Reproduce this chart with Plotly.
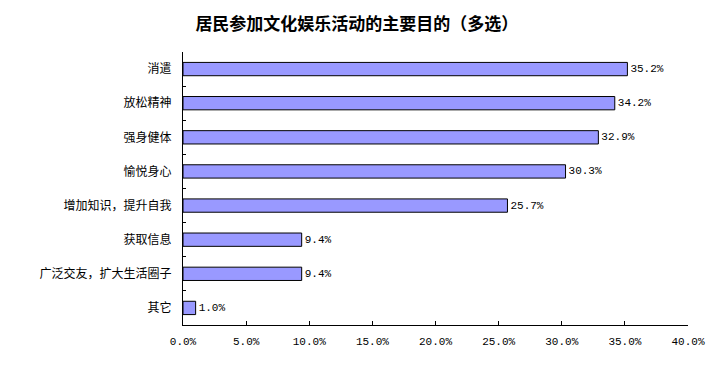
import plotly.graph_objects as go

categories = ["消遣", "放松精神", "强身健体", "愉悦身心", "增加知识，提升自我", "获取信息", "广泛交友，扩大生活圈子", "其它"]
values = [35.2, 34.2, 32.9, 30.3, 25.7, 9.4, 9.4, 1.0]
tick_vals = [0, 5, 10, 15, 20, 25, 30, 35, 40]
tick_text = [f"{v:.1f}%" for v in tick_vals]
value_labels = [f"{v:.1f}%" for v in values]

fig = go.Figure(go.Bar(
    x=values, y=categories, orientation="h",
    marker=dict(color="#9999FF", line=dict(color="black", width=1)),
    width=0.39,
    text=value_labels, textposition="outside", cliponaxis=False,
    textfont=dict(family="Liberation Mono", size=11, color="black"),
))

# page body has an 8px default margin, so the figure is 712x359
fig.update_layout(
    width=712, height=359,
    margin=dict(l=175, r=32, t=44, b=42, autoexpand=False),
    paper_bgcolor="white", plot_bgcolor="white",
    showlegend=False,
    title=dict(text="<b>居民参加文化娱乐活动的主要目的（多选）</b>",
               font=dict(family="Noto Sans CJK SC", size=17, color="black"),
               xref="container", yref="container", x=0.490, y=0.955,
               xanchor="center", yanchor="middle"),
)
fig.update_xaxes(range=[0, 40], tickvals=tick_vals, ticktext=tick_text, automargin=False,
                 showgrid=False, zeroline=False, showline=True, linecolor="black", linewidth=1,
                 ticks="inside", ticklen=4, tickcolor="black", ticklabelstandoff=6,
                 tickfont=dict(family="Liberation Mono", size=11, color="black"))
fig.update_yaxes(autorange="reversed", showgrid=False, zeroline=False, automargin=False,
                 showline=True, linecolor="black", linewidth=1,
                 ticks="inside", ticklen=3, tickcolor="black", tickson="boundaries",
                 ticklabelstandoff=8,
                 tickfont=dict(family="Noto Sans CJK SC", size=12, color="black"))

fig.write_html("out.html")
